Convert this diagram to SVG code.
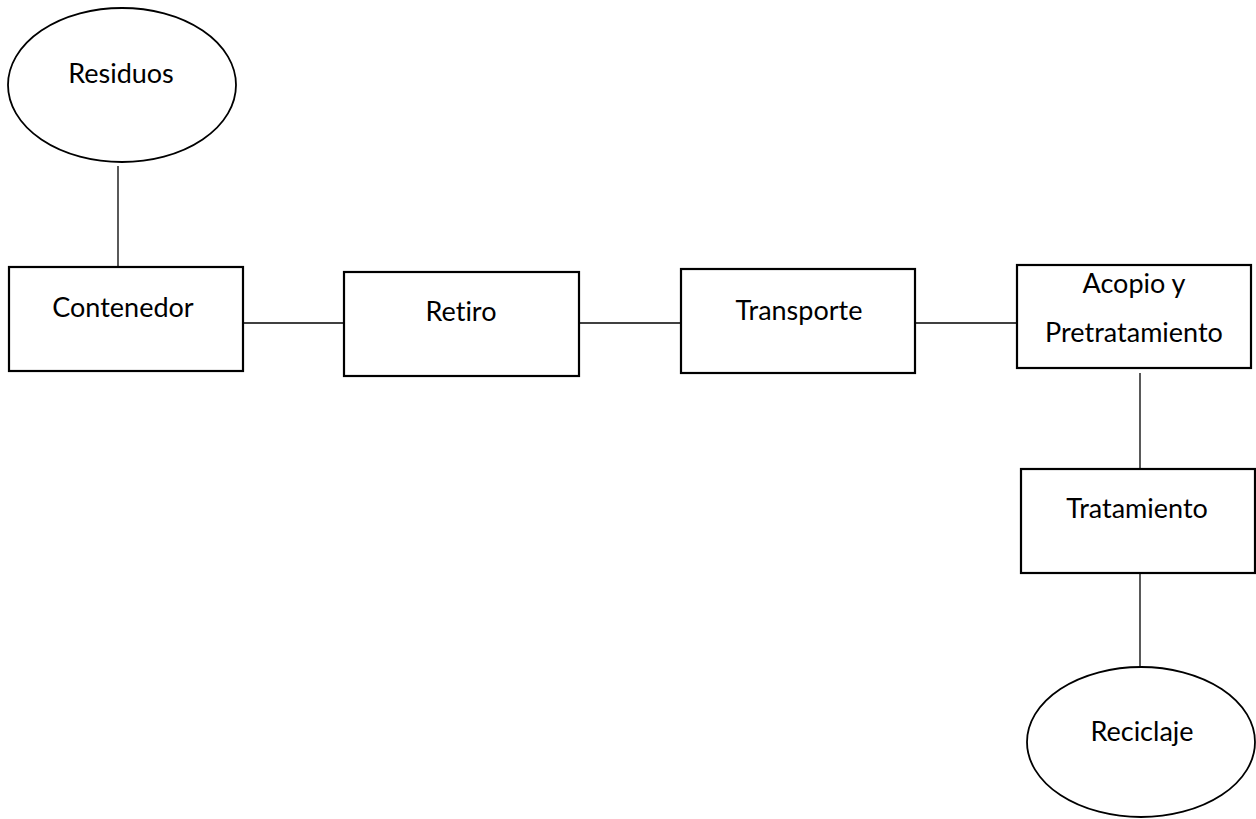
<svg xmlns="http://www.w3.org/2000/svg" width="1256" height="819" viewBox="0 0 1256 819">
<style>
.box{fill:#fff;stroke:#000;stroke-width:2.2}
.ell{fill:#fff;stroke:#000;stroke-width:1.8}
.ln{stroke:#000;stroke-width:1.3;fill:none}
text{font-family:Lato,"Open Sans",sans-serif;font-size:27px;fill:#000;text-anchor:middle;font-variant-ligatures:none;font-feature-settings:"liga" 0,"dlig" 0}
</style>
<rect width="1256" height="819" fill="#fff"/>
<g id="connectors">
<line class="ln" x1="118" y1="166" x2="118" y2="271"/>
<line class="ln" x1="243" y1="323" x2="344" y2="323"/>
<line class="ln" x1="579" y1="323" x2="681" y2="323"/>
<line class="ln" x1="915" y1="323" x2="1017" y2="323"/>
<line class="ln" x1="1140" y1="373" x2="1140" y2="469"/>
<line class="ln" x1="1140" y1="573" x2="1140" y2="667"/>
</g>
<g id="residuos">
<ellipse class="ell" cx="122" cy="85" rx="114" ry="77"/>
<text x="121" y="83">Residuos</text>
</g>
<g id="contenedor">
<rect class="box" x="9" y="267" width="234" height="104"/>
<text x="123" y="317">Contenedor</text>
</g>
<g id="retiro">
<rect class="box" x="344" y="272" width="235" height="104"/>
<text x="461" y="321">Retiro</text>
</g>
<g id="transporte">
<rect class="box" x="681" y="269" width="234" height="104"/>
<text x="799" y="320">Transporte</text>
</g>
<g id="acopio">
<rect class="box" x="1017" y="265" width="234" height="103"/>
<text x="1134" y="293">Acopio y</text>
<text x="1134" y="342">Pretratamiento</text>
</g>
<g id="tratamiento">
<rect class="box" x="1021" y="469" width="234" height="104"/>
<text x="1137" y="518">Tratamiento</text>
</g>
<g id="reciclaje">
<ellipse class="ell" cx="1141" cy="742" rx="114" ry="75"/>
<text x="1142" y="741">Reciclaje</text>
</g>
</svg>
